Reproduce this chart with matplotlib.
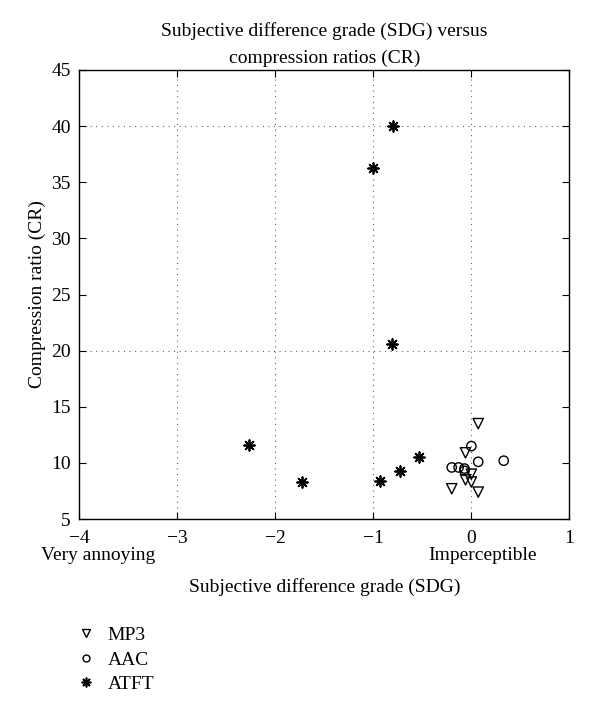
import matplotlib
matplotlib.use("Agg")
import matplotlib.pyplot as plt
from matplotlib.lines import Line2D
from matplotlib import transforms

plt.rcParams['font.family'] = ['Liberation Serif', 'DejaVu Serif']

# Data
mp3_sdg = [0.07, -0.06, 0.0, -0.06, 0.0, -0.2, 0.07]
mp3_cr = [13.5, 10.9, 9.0, 8.5, 8.3, 7.7, 7.4]
aac_sdg = [0.0, 0.07, 0.33, -0.2, -0.13, -0.07, -0.07]
aac_cr = [11.5, 10.1, 10.2, 9.6, 9.6, 9.5, 9.3]
atft_sdg = [-0.8, -1.0, -0.81, -2.27, -1.73, -0.93, -0.73, -0.53]
atft_cr = [40.0, 36.3, 20.6, 11.6, 8.3, 8.4, 9.3, 10.5]

xticks = [-4, -3, -2, -1, 0, 1]
yticks = [5, 10, 15, 20, 25, 30, 35, 40, 45]
xgrid = [-3, -2, -1, 0]
ygrid = [20, 40]
labels = ['MP3', 'AAC', 'ATFT']

fig = plt.figure(figsize=(6.0, 7.14), dpi=100)
ax = fig.add_axes([0.132, 0.273, 0.817, 0.629])

for xv in xgrid:
    ax.axvline(xv, color='#666666', linestyle=(0, (1, 4)), linewidth=0.8, zorder=0)
for yv in ygrid:
    ax.axhline(yv, color='#666666', linestyle=(0, (1, 4)), linewidth=0.8, zorder=0)

ax.scatter(mp3_sdg, mp3_cr, marker='v', s=55, facecolors='none', edgecolors='black', linewidths=1.0, zorder=3)
ax.scatter(aac_sdg, aac_cr, marker='o', s=45, facecolors='none', edgecolors='black', linewidths=1.0, zorder=3)
ax.scatter(atft_sdg, atft_cr, marker=(8, 2, 0), s=60, color='black', linewidths=1.3, zorder=3)

ax.set_xlim(-4, 1)
ax.set_ylim(5, 45)
ax.set_xticks(xticks)
ax.set_yticks(yticks)
ax.set_xticklabels(['\u2212' + str(-t) if t < 0 else str(t) for t in xticks])
ax.tick_params(direction='in', top=True, right=True, labelsize=14, length=5, width=0.8)
ax.tick_params(axis='x', pad=8)
ax.tick_params(axis='y', pad=6)
for sp in ax.spines.values():
    sp.set_linewidth(1.0)

ax.set_title('Subjective difference grade (SDG) versus\ncompression ratios (CR)', fontsize=14, linespacing=1.75, pad=5)
ax.set_ylabel('Compression ratio (CR)', fontsize=14, labelpad=4)
ax.set_xlabel('Subjective difference grade (SDG)', fontsize=14, labelpad=22)

trans = transforms.blended_transform_factory(ax.transData, fig.transFigure)
ax.text(-3.81, 1 - 556 / 714, 'Very annoying', transform=trans, ha='center', va='center', fontsize=14)
ax.text(0.11, 1 - 556 / 714, 'Imperceptible', transform=trans, ha='center', va='center', fontsize=14)

handles = [
    Line2D([], [], marker='v', linestyle='none', markerfacecolor='none', markeredgecolor='black', markersize=6),
    Line2D([], [], marker='o', linestyle='none', markerfacecolor='none', markeredgecolor='black', markersize=5),
    Line2D([], [], marker=(8, 2, 0), linestyle='none', color='black', markersize=7, markeredgewidth=1.2),
]
fig.legend(handles, labels, loc='upper left', bbox_to_anchor=(0.098, 1 - 609 / 714), frameon=False,
           fontsize=14, handlelength=1.0, handletextpad=0.6, labelspacing=0.35)

fig.savefig('out.png', dpi=100)
